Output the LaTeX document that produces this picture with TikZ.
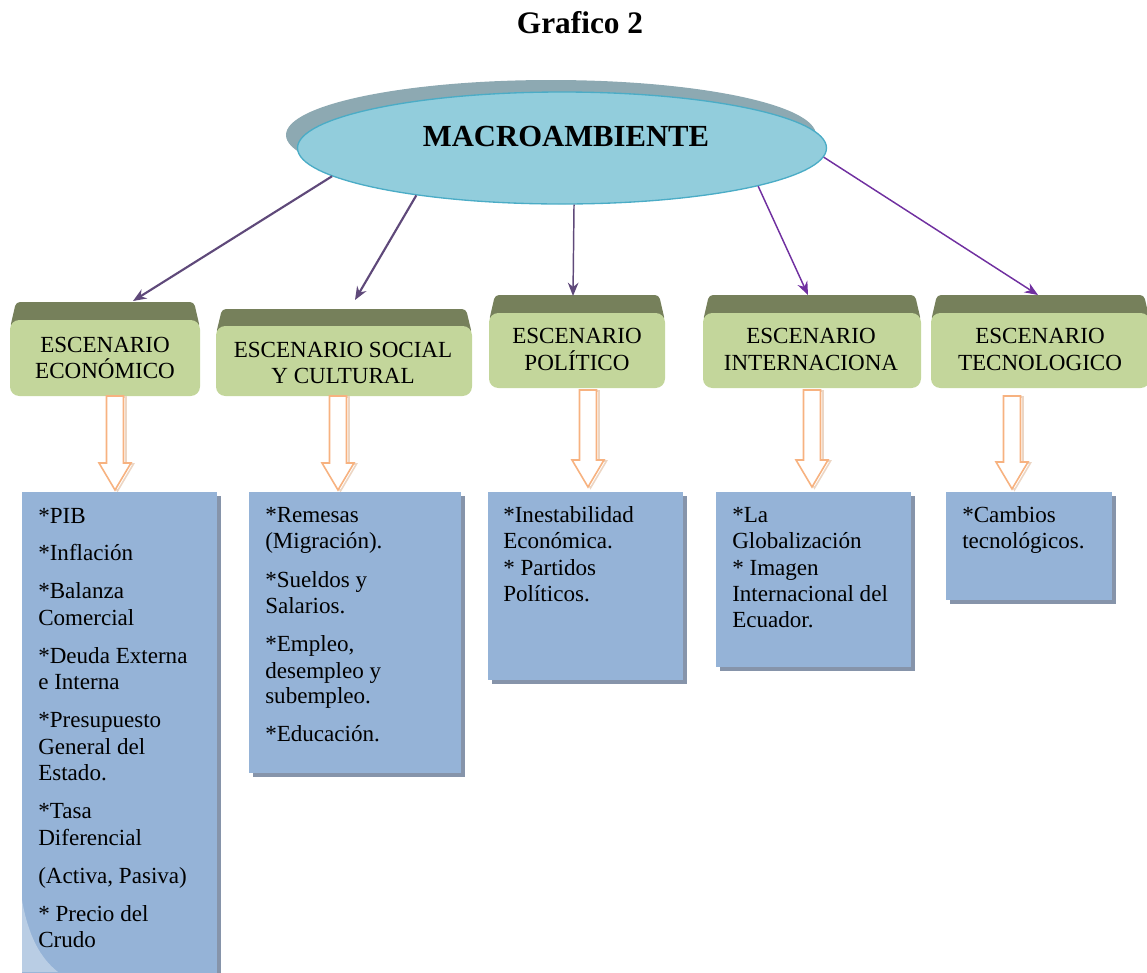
\documentclass[tikz,border=0pt]{standalone}
\usepackage{fontspec}
\setmainfont{Liberation Serif}
\usetikzlibrary{arrows.meta,shapes.geometric}

\definecolor{ellfill}{RGB}{146,205,220}
\definecolor{ellline}{RGB}{75,172,198}
\definecolor{ellshade}{RGB}{141,169,178}
\definecolor{greenbody}{RGB}{195,214,155}
\definecolor{greentop}{RGB}{118,128,91}
\definecolor{listblue}{RGB}{149,179,215}
\definecolor{listshade}{RGB}{134,148,170}
\definecolor{arrowline}{RGB}{247,178,128}
\definecolor{arrowshade}{RGB}{236,214,196}
\definecolor{linkdark}{RGB}{95,73,122}
\definecolor{linkbright}{RGB}{112,48,160}

\tikzset{
  txt/.style={font=\fontsize{17.3}{20}\selectfont, inner sep=0pt},
  itemline/.style={txt, anchor=base west},
  headline/.style={txt, anchor=base},
  linkA/.style={draw=linkdark, line width=1.6pt, -{Stealth[length=10pt,width=8pt]}},
  linkB/.style={draw=linkdark, line width=1.1pt, -{Stealth[length=10pt,width=8pt]}},
  linkC/.style={draw=linkbright, line width=1.1pt, -{Stealth[length=10pt,width=8pt]}},
}

% green scenario box: x1, x2, bevel top, body top, bottom
\newcommand\stagebox[5]{%
  \fill[greentop, rounded corners=3pt] ({#1+6},#3) -- ({#2-6},#3) -- (#2,{#4+8}) -- (#1,{#4+8}) -- cycle;
  \fill[greenbody, rounded corners=7pt] (#1,#4) rectangle (#2,#5);
}
% blue list box with a drop shadow: x1, y1, x2, y2
\newcommand\listbox[4]{%
  \fill[listshade] ({#1+4},{#2+4}) rectangle ({#3+4},{#4+4});
  \fill[listblue] (#1,#2) rectangle (#3,#4);
}
% hollow block arrow: centre x, top, neck y, tip y
\newcommand\blockarrow[4]{%
  \draw[arrowshade, line width=1.2pt] ({#1-8.5+2.5},{#2+1}) -- ({#1+8.5+2.5},{#2+1}) -- ({#1+8.5+2.5},{#3+1}) -- ({#1+16+2.5},{#3+1}) -- ({#1+2.5},{#4+1}) -- ({#1-16+2.5},{#3+1});
  \draw[arrowline, fill=white, line width=1.2pt] ({#1-8.5},#2) -- ({#1+8.5},#2) -- ({#1+8.5},#3) -- ({#1+16},#3) -- (#1,#4) -- ({#1-16},#3) -- ({#1-8.5},#3) -- cycle;
}

\begin{document}
\begin{tikzpicture}[x=0.75pt,y=-0.75pt]
\useasboundingbox (0,0) rectangle (1147,972);

% title
\node[font=\fontsize{23.5}{28}\selectfont\bfseries, anchor=base, inner sep=0pt] (title) at (580,33) {Grafico 2};

% central ellipse
\node[ellipse, fill=ellshade, minimum width=397.5pt, minimum height=82.5pt, inner sep=0pt] (macroshade) at (551,135) {};
\node[ellipse, fill=ellfill, draw=ellline, line width=1pt, minimum width=396.75pt, minimum height=84pt, inner sep=0pt] (macro) at (562,148) {};
\node[font=\fontsize{23}{28}\selectfont\bfseries, anchor=base, inner sep=0pt] (macrotext) at (566,146) {MACROAMBIENTE};

% scenario boxes
\stagebox{10}{200}{302}{320}{396}
\stagebox{216}{472}{309}{326}{396}
\stagebox{489}{665}{295}{313}{388}
\stagebox{703}{921}{295}{313}{388}
\stagebox{931}{1150}{295}{313}{388}

\node[headline] (e1a) at (105,352) {ESCENARIO};
\node[headline] (e1b) at (105,378) {ECONÓMICO};
\node[headline] (e2a) at (343,357) {ESCENARIO SOCIAL};
\node[headline] (e2b) at (343,383) {Y CULTURAL};
\node[headline] (e3a) at (577,343) {ESCENARIO};
\node[headline] (e3b) at (577,370) {POLÍTICO};
\node[headline] (e4a) at (811,343) {ESCENARIO};
\node[headline] (e4b) at (811,370) {INTERNACIONA};
\node[headline] (e5a) at (1040,343) {ESCENARIO};
\node[headline] (e5b) at (1040,370) {TECNOLOGICO};

% links from the ellipse to the scenarios
\coordinate (t1) at (133,301);
\coordinate (t2) at (355,300);
\coordinate (t3) at (573,296);
\coordinate (t4) at (808,295);
\coordinate (t5) at (1038,295);
\draw[linkA] (macro.187) -- (t1);
\draw[linkA] (macro.198) -- (t2);
\draw[linkB] (macro.282) -- (t3);
\draw[linkC] (macro.349) -- (t4);
\draw[linkC] (macro.358) -- (t5);

% block arrows
\blockarrow{115}{396}{463}{490}
\blockarrow{338}{396}{463}{490}
\blockarrow{588}{390}{460}{487}
\blockarrow{812}{390}{460}{487}
\blockarrow{1012}{396}{462}{489}

% list boxes
\listbox{22}{492}{217}{980}
\fill[white, opacity=0.35] (22,900) .. controls (28,935) and (40,958) .. (58,972) -- (22,972) -- cycle;
\listbox{249}{492}{461}{773}
\listbox{488}{492}{683}{680}
\listbox{716}{492}{911}{667}
\listbox{946}{492}{1112}{600}

% economic items
\node[itemline] (l1a) at (38,523) {*PIB};
\node[itemline] (l1b) at (38,560) {*Inflación};
\node[itemline] (l1c) at (38,598) {*Balanza};
\node[itemline] (l1d) at (38,625) {Comercial};
\node[itemline] (l1e) at (38,663) {*Deuda Externa};
\node[itemline] (l1f) at (38,689) {e Interna};
\node[itemline] (l1g) at (38,727) {*Presupuesto};
\node[itemline] (l1h) at (38,754) {General del};
\node[itemline] (l1i) at (38,780) {Estado.};
\node[itemline] (l1j) at (38,818) {*Tasa};
\node[itemline] (l1k) at (38,845) {Diferencial};
\node[itemline] (l1l) at (38,883) {(Activa, Pasiva)};
\node[itemline] (l1m) at (38,921) {* Precio del};
\node[itemline] (l1n) at (38,947) {Crudo};

% social items
\node[itemline] (l2a) at (265,522) {*Remesas};
\node[itemline] (l2b) at (265,548) {(Migración).};
\node[itemline] (l2c) at (265,587) {*Sueldos y};
\node[itemline] (l2d) at (265,613) {Salarios.};
\node[itemline] (l2e) at (265,651) {*Empleo,};
\node[itemline] (l2f) at (265,678) {desempleo y};
\node[itemline] (l2g) at (265,703) {subempleo.};
\node[itemline] (l2h) at (265,741) {*Educación.};

% political items
\node[itemline] (l3a) at (503,522) {*Inestabilidad};
\node[itemline] (l3b) at (503,548) {Económica.};
\node[itemline] (l3c) at (503,575) {* Partidos};
\node[itemline] (l3d) at (503,601) {Políticos.};

% international items
\node[itemline] (l4a) at (732,522) {*La};
\node[itemline] (l4b) at (732,548) {Globalización};
\node[itemline] (l4c) at (732,575) {* Imagen};
\node[itemline] (l4d) at (732,601) {Internacional del};
\node[itemline] (l4e) at (732,627) {Ecuador.};

% technological items
\node[itemline] (l5a) at (962,522) {*Cambios};
\node[itemline] (l5b) at (962,548) {tecnológicos.};
\end{tikzpicture}
\end{document}
